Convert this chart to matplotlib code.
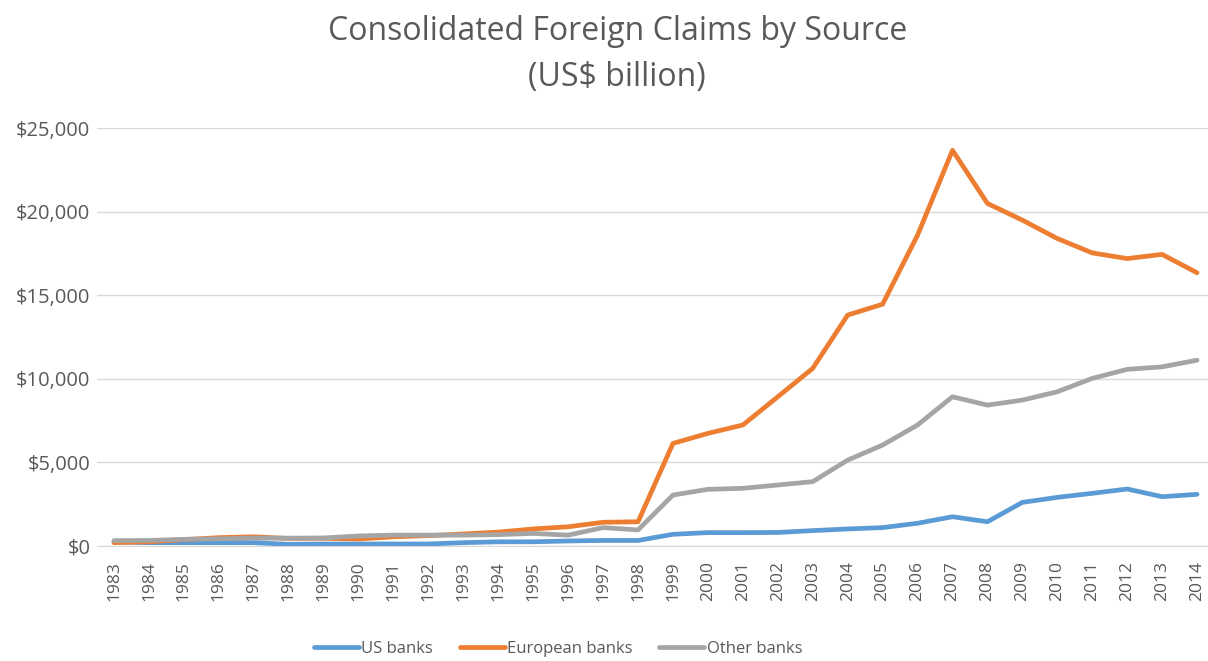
import matplotlib
matplotlib.use("Agg")
import matplotlib.pyplot as plt
from matplotlib.ticker import FuncFormatter

years = list(range(1983, 2015))
us_banks = [250, 200, 200, 200, 200, 100, 120, 120, 120, 120, 200, 250, 250, 300, 330, 330,
            700, 800, 800, 810, 920, 1020, 1100, 1360, 1750, 1450, 2610, 2910, 3150, 3410, 2950, 3090]
european_banks = [200, 250, 380, 500, 550, 450, 460, 420, 550, 620, 720, 830, 1020, 1150, 1420, 1450,
                  6140, 6740, 7240, 8930, 10630, 13820, 14470, 18600, 23680, 20500, 19500, 18400,
                  17540, 17200, 17450, 16350]
other_banks = [320, 330, 400, 430, 470, 470, 480, 600, 650, 650, 650, 680, 750, 650, 1100, 960,
               3050, 3390, 3450, 3650, 3850, 5140, 6040, 7240, 8930, 8430, 8730, 9230, 10030,
               10570, 10720, 11120]
series_names = ["US banks", "European banks", "Other banks"]
colors = ["#5B9BD5", "#ED7D31", "#A5A5A5"]
title_text = "Consolidated Foreign Claims by Source\n(US$ billion)"

plt.rcParams['font.family'] = ['Open Sans', 'DejaVu Sans']
fig = plt.figure(figsize=(12.08, 6.61), dpi=100)
ax = fig.add_axes([0.0799, 0.174, 0.9255, 0.632])

x = list(range(len(years)))
for vals, name, c in zip([us_banks, european_banks, other_banks], series_names, colors):
    ax.plot(x, vals, color=c, lw=3.4, label=name, solid_capstyle='round', solid_joinstyle='round')

ax.set_xlim(-0.5, len(years) - 0.5)
ax.set_ylim(0, 25000)
ax.set_yticks(range(0, 25001, 5000))
ax.yaxis.set_major_formatter(FuncFormatter(lambda v, p: "${:,.0f}".format(v)))
ax.set_xticks(x)
ax.set_xticklabels([str(y) for y in years], rotation=90)
ax.grid(axis='y', color='#D9D9D9', lw=1)
ax.set_axisbelow(True)
for s in ['top', 'right', 'left']:
    ax.spines[s].set_visible(False)
ax.spines['bottom'].set_color('#D9D9D9')
ax.tick_params(axis='y', length=0, labelsize=14.5, labelcolor='#595959', pad=4.5)
ax.tick_params(axis='x', length=0, labelsize=12.5, labelcolor='#595959', pad=11)

fig.text(0.511, 0.977, title_text, ha='center', va='top', fontsize=23, color='#595959',
         linespacing=1.53)

leg = fig.legend(loc='center', bbox_to_anchor=(0.462, 0.018), ncol=3, frameon=False,
                 fontsize=12, handlelength=2.7, columnspacing=1.6, handletextpad=0.15)
for t in leg.get_texts():
    t.set_color('#595959')

fig.savefig("out.png", dpi=100)
